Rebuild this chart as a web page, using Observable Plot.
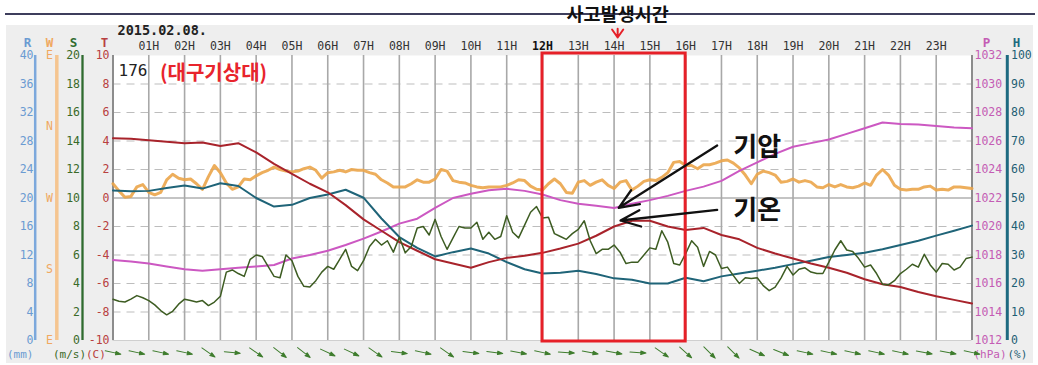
<!DOCTYPE html>
<html>
<head>
<meta charset="utf-8">
<script src="https://cdn.jsdelivr.net/npm/d3@7"></script>
<script src="https://cdn.jsdelivr.net/npm/@observablehq/plot@0.6"></script>
<style>
  html, body { margin: 0; padding: 0; background: #fff; }
  #page { position: relative; width: 1038px; height: 365px; overflow: hidden; }
  #rule { position: absolute; left: 5px; top: 13px; width: 1030px; height: 2px; background: #3e3e5c; }
  #panel { position: absolute; left: 6px; top: 25px; width: 1027px; height: 338px; background: #eeeeee; }
  #chart { position: absolute; left: 0; top: 0; }
</style>
</head>
<body>
<div id="page">
  <div id="rule"></div>
  <div id="panel"></div>
  <div id="chart"></div>
</div>
<script>
// ---- Daegu weather station (176), 2015-02-08 ----

// sample times (hours of the day)
const halfHours = d3.range(0, 49).map(i => i / 2);      // every 30 min
const tenMinutes = d3.range(0, 145).map(k => k / 6);    // every 10 min
const arrowHours = d3.range(0, 37).map(i => i * 2 / 3); // every 40 min

// temperature (°C), half-hourly
const temperature = [
  4.2, 4.15, 4.05, 3.95, 3.85, 3.9, 3.65, 3.85, 3.2, 2.4,
  1.7, 1.0, 0.4, -0.5, -1.5, -2.3, -3.1, -3.7, -4.3, -4.6,
  -4.9, -4.5, -4.2, -4.05, -3.85, -3.55, -3.2, -2.65, -2.0, -1.6,
  -1.6, -2.0, -2.25, -2.1, -2.6, -2.9, -3.5, -3.9, -4.25, -4.6,
  -4.9, -5.25, -5.7, -6.05, -6.25, -6.6, -6.9, -7.15, -7.4
];

// station pressure (hPa), half-hourly
const pressure = [
  1017.65, 1017.55, 1017.4, 1017.2, 1017.0, 1016.9, 1017.0, 1017.1, 1017.2, 1017.3,
  1017.75, 1018.0, 1018.3, 1018.7, 1019.15, 1019.65, 1020.2, 1020.55, 1021.3, 1022.0,
  1022.3, 1022.55, 1022.65, 1022.5, 1022.25, 1021.85, 1021.6, 1021.45, 1021.3, 1021.6,
  1021.85, 1022.15, 1022.5, 1022.8, 1023.2, 1023.9, 1024.5, 1025.1, 1025.6, 1025.85,
  1026.1, 1026.5, 1026.9, 1027.3, 1027.2, 1027.15, 1027.05, 1026.95, 1026.9
];

// relative humidity (%), half-hourly
const humidity = [
  52.6, 52.4, 52.5, 53.5, 54.4, 53.3, 55.2, 54.2, 50.0, 47.0,
  47.6, 50.0, 51.2, 52.9, 50.1, 42.8, 36.3, 32.5, 29.5, 31.0,
  32.3, 30.5, 27.5, 25.0, 23.5, 23.8, 24.5, 23.3, 21.8, 21.3,
  20.0, 20.0, 22.0, 20.8, 22.5, 23.5, 24.5, 25.5, 26.8, 28.0,
  29.3, 30.0, 30.8, 32.0, 33.5, 35.0, 36.8, 38.5, 40.3
];

// wind speed (m/s), every 10 min
const windSpeed = [
  2.9, 2.75, 2.7, 2.9, 3.15, 3.0, 2.8, 2.5, 2.1, 1.8,
  2.05, 2.55, 2.9, 2.8, 2.7, 2.8, 2.45, 2.7, 3.1, 4.8,
  4.95, 4.7, 4.5, 5.7, 6.0, 5.9, 5.2, 4.5, 4.4, 6.0,
  5.6, 4.5, 3.8, 3.75, 4.2, 4.8, 5.2, 5.0, 5.7, 6.4,
  5.2, 4.9, 5.6, 6.6, 7.1, 6.7, 7.0, 6.2, 7.25, 6.15,
  6.6, 7.9, 8.0, 7.4, 8.5, 7.3, 6.4, 7.2, 8.0, 7.9,
  7.9, 8.3, 7.1, 7.6, 7.1, 7.3, 8.75, 7.6, 7.2, 8.1,
  9.0, 9.4, 8.6, 8.65, 7.5, 7.3, 7.1, 7.5, 7.8, 8.4,
  7.0, 6.1, 6.4, 6.4, 6.7, 6.2, 5.4, 5.5, 5.5, 6.0,
  6.5, 6.4, 7.7, 6.9, 5.4, 5.3, 6.1, 7.0, 6.55, 5.2,
  6.25, 6.0, 5.05, 5.15, 4.55, 4.0, 4.4, 4.35, 4.4, 3.85,
  3.5, 3.75, 4.4, 5.2, 4.6, 5.0, 5.1, 4.8, 4.7, 4.7,
  5.5, 6.35, 7.0, 6.35, 6.25, 5.75, 5.15, 5.3, 4.7, 3.95,
  3.9, 4.2, 4.7, 5.0, 5.35, 5.15, 6.05, 5.3, 4.8, 5.4,
  5.35, 4.95, 5.15, 5.75, 5.85
];

// wind direction (degrees, where the wind blows from), every 10 min
const windDirection = [
  288, 279, 271, 272, 284, 287, 277, 274, 277, 293,
  300, 295, 293, 294, 288, 281, 297, 311, 302, 289,
  281, 284, 294, 293, 298, 302, 305, 309, 306, 304,
  303, 304, 307, 309, 305, 295, 302, 303, 305, 303,
  306, 305, 305, 302, 300, 293, 289, 284, 284, 284,
  288, 293, 290, 290, 294, 306, 304, 292, 290, 289,
  286, 284, 283, 284, 284, 284, 286, 289, 293, 292,
  285, 281, 280, 288, 294, 288, 277, 276, 290, 292,
  286, 290, 293, 286, 282, 290, 292, 280, 285, 291,
  293, 292, 296, 302, 315, 316, 311, 311, 307, 312,
  312, 314, 317, 318, 314, 308, 299, 288, 300, 304,
  302, 299, 290, 291, 294, 290, 292, 290, 284, 283,
  287, 284, 287, 284, 283, 285, 289, 286, 299, 306,
  299, 286, 281, 280, 281, 281, 284, 285, 280, 281,
  280, 284, 284, 283, 282
];

// wind vectors along the bottom strip (direction the wind blows from, degrees)
const arrowDirection = [
  282, 282, 282, 282, 305, 276, 305, 308, 308, 295,
  295, 305, 278, 282, 305, 277, 277, 280, 282, 274,
  280, 280, 274, 305, 312, 315, 315, 294, 292, 282,
  282, 282, 282, 282, 280, 280, 282
];

// axis ticks
const hourTicks = d3.range(1, 24);
const hourLabels = hourTicks.map(h => String(h).padStart(2, "0") + "H");
const rainTicks = [40, 36, 32, 28, 24, 20, 16, 12, 8, 4, 0];
const dirTicks = [450, 360, 270, 180, 90];
const dirLabels = ["E", "N", "W", "S", "E"];
const speedTicks = [20, 18, 16, 14, 12, 10, 8, 6, 4, 2, 0];
const tempTicks = [10, 8, 6, 4, 2, 0, -2, -4, -6, -8, -10];
const pressTicks = [1032, 1030, 1028, 1026, 1024, 1022, 1020, 1018, 1016, 1014, 1012];
const humTicks = [100, 90, 80, 70, 60, 50, 40, 30, 20, 10, 0];

const stationNo = "176";
const stationName = "(대구기상대)";
const dateLabel = "2015.02.08.";
const accidentLabel = "사고발생시간";
const accidentHour = 14.1;

// every quantity shares one vertical frame: the temperature scale (-10..10 °C)
const frame = {
  rain: r => r / 2 - 10,
  dir: d => (d - 270) / 18,
  speed: s => s - 10,
  temp: t => t,
  press: p => p - 1022,
  hum: h => h / 5 - 10
};

const series = (times, values, f) => times.map((t, i) => ({t, v: f(values[i])}));

const mono = "DejaVu Sans Mono, monospace";
const kr = "Noto Sans CJK KR, sans-serif";

const colors = {
  rain: "#6b9bd2", rainAxis: "#7ca8dc",
  dir: "#eba54a", dirLabel: "#f0a860", dirAxis: "#f5c590",
  speed: "#3d5c22", speedLabel: "#3a6a28", speedAxis: "#2f6b2f",
  temp: "#a8232b", tempLabel: "#b84040",
  press: "#cc58c2", pressLabel: "#c45cb4",
  hum: "#1f6478", humLabel: "#1e5f74", humAxis: "#1d6a80",
  vector: "#3f7d2e"
};

// thin-tailed arrow with a small filled head, used for the wind vectors
const windGlyph = {
  draw(ctx, l) {
    const head = l * 0.32, wing = l * 0.11;
    ctx.moveTo(0, 0);
    ctx.lineTo(0, -l + head * 0.5);
    ctx.moveTo(0, -l);
    ctx.lineTo(-wing, -l + head);
    ctx.lineTo(wing, -l + head);
    ctx.closePath();
  }
};

// downward chevron marking the accident time
const chevron = {
  draw(ctx, l) {
    ctx.moveTo(-l * 0.7, -l);
    ctx.lineTo(0, 0);
    ctx.lineTo(l * 0.7, -l);
    ctx.moveTo(0, 0);
    ctx.lineTo(0, -l * 1.1);
  }
};

const annotations = [
  {label: "기압", lx: 18.0, ly: 3.54, x1: 16.88, y1: 3.68, x2: 14.13, y2: frame.press(1021.31)},
  {label: "기온", lx: 18.0, ly: -0.88, x1: 16.88, y1: -0.83, x2: 14.18, y2: frame.temp(-1.58)}
];

const tickText = (ticks, f, anchor, dx, textAnchor, fill, labels) =>
  Plot.text(ticks, {
    y: f, text: (d, i) => labels ? labels[i] : String(d),
    frameAnchor: anchor, dx, textAnchor, fill,
    fontSize: 11.5, fontFamily: mono
  });

const header = (label, anchor, dx, fill) =>
  Plot.text([label], {text: d => d, frameAnchor: anchor, dx, dy: -13, lineAnchor: "middle",
    textAnchor: "middle", fill, fontSize: 12.5, fontWeight: "bold", fontFamily: mono});

const unit = (label, anchor, dx, fill) =>
  Plot.text([label], {text: d => d, frameAnchor: anchor, dx, dy: 13.5, lineAnchor: "middle",
    fill, textAnchor: "start", fontSize: 11, fontFamily: mono});

const chart = Plot.plot({
  width: 1038,
  height: 365,
  marginLeft: 112.5,
  marginRight: 66.5,
  marginTop: 55,
  marginBottom: 25,
  x: {domain: [0, 24], axis: null},
  y: {domain: [-10, 10], axis: null},
  style: {background: "transparent", overflow: "visible"},
  marks: [
    // plotting area and grid
    Plot.frame({fill: "white", stroke: null}),
    Plot.ruleY([-8, -6, -4, -2, 2, 4, 6, 8], {stroke: "#bdbdbd", strokeWidth: 1, strokeDasharray: "8,6"}),
    Plot.ruleY([0], {stroke: "#b0b0b0", strokeWidth: 1.5}),
    Plot.ruleX(hourTicks, {stroke: "#a8a8a8", strokeWidth: 1.6}),
    Plot.ruleY([-10], {stroke: "#cfcfcf", strokeWidth: 1}),
    Plot.ruleX([0, 24], {stroke: "#8c8c8c", strokeWidth: 2}),

    // extra axis spines
    Plot.ruleX([0], {dx: -77.8, stroke: colors.rainAxis, strokeWidth: 2.5}),
    Plot.ruleX([0], {dx: -56.2, stroke: colors.dirAxis, strokeWidth: 3.5}),
    Plot.ruleX([0], {dx: -30.5, stroke: colors.speedAxis, strokeWidth: 2.3}),
    Plot.ruleX([24], {dx: 35.3, stroke: colors.humAxis, strokeWidth: 3}),

    // tick labels
    tickText(rainTicks, frame.rain, "left", -79.5, "end", colors.rain),
    tickText(dirTicks, frame.dir, "left", -63.5, "middle", colors.dirLabel, dirLabels),
    tickText(speedTicks, frame.speed, "left", -33, "end", colors.speedLabel),
    tickText(tempTicks, frame.temp, "left", -3.5, "end", colors.tempLabel),
    tickText(pressTicks, frame.press, "right", 2.5, "start", colors.pressLabel),
    tickText(humTicks, frame.hum, "right", 39, "start", colors.humLabel),

    // axis headers and units
    header("R", "top-left", -85.5, colors.rain),
    header("W", "top-left", -63.5, colors.dirLabel),
    header("S", "top-left", -39.5, colors.speedAxis),
    header("T", "top-left", -8.5, colors.tempLabel),
    header("P", "top-right", 14.5, colors.pressLabel),
    header("H", "top-right", 44.5, colors.humAxis),
    unit("(mm)", "bottom-left", -106, colors.rain),
    unit("(m/s)", "bottom-left", -60, colors.speedLabel),
    unit("(C)", "bottom-left", -27, colors.tempLabel),
    unit("(hPa)", "bottom-right", 1.5, colors.pressLabel),
    unit("(%)", "bottom-right", 35.5, colors.humLabel),

    // hour labels along the top
    Plot.text(hourTicks.filter(h => h !== 12), {
      x: d => d, text: d => hourLabels[d - 1], frameAnchor: "top", dy: -9, lineAnchor: "middle",
      fill: "#333", fontSize: 11.5, fontFamily: mono
    }),
    Plot.text([12], {
      x: d => d, text: d => hourLabels[d - 1], frameAnchor: "top", dy: -9, lineAnchor: "middle",
      fill: "#111", fontSize: 11.5, fontWeight: "bold", fontFamily: mono
    }),
    Plot.text([dateLabel], {
      text: d => d, frameAnchor: "top-left", dx: 4.5, dy: -25, lineAnchor: "middle", textAnchor: "start",
      fill: "#222", fontSize: 13.5, fontWeight: "bold", fontFamily: mono
    }),

    // observations
    Plot.line(series(tenMinutes, windDirection, frame.dir),
      {x: "t", y: "v", stroke: colors.dir, strokeWidth: 3, strokeOpacity: 0.9, strokeLinejoin: "round"}),
    Plot.line(series(halfHours, pressure, frame.press),
      {x: "t", y: "v", stroke: colors.press, strokeWidth: 2}),
    Plot.line(series(halfHours, humidity, frame.hum),
      {x: "t", y: "v", stroke: colors.hum, strokeWidth: 2}),
    Plot.line(series(halfHours, temperature, frame.temp),
      {x: "t", y: "v", stroke: colors.temp, strokeWidth: 2}),
    Plot.line(series(tenMinutes, windSpeed, frame.speed),
      {x: "t", y: "v", stroke: colors.speed, strokeWidth: 1.5, strokeLinejoin: "round"}),

    // wind vectors below the plot
    Plot.vector(arrowHours, {
      x: d => d, rotate: (d, i) => arrowDirection[i] - 180,
      length: 16, shape: windGlyph, anchor: "middle",
      frameAnchor: "bottom", dy: 12,
      stroke: colors.vector, fill: colors.vector, strokeWidth: 1
    }),

    // station labels
    Plot.text([stationNo], {
      text: d => d, frameAnchor: "top-left", dx: 5.5, dy: 15, lineAnchor: "middle", textAnchor: "start",
      fill: "#222", fontSize: 16, fontFamily: mono
    }),
    Plot.text([stationName], {
      text: d => d, frameAnchor: "top-left", dx: 47, dy: 18, lineAnchor: "middle", textAnchor: "start",
      fill: "#e8242c", fontSize: 20, fontWeight: "bold", fontFamily: kr
    }),

    // accident window
    Plot.rect([{x1: 12, x2: 16}], {
      x1: "x1", x2: "x2", y1: -10, y2: 10, insetTop: -2, insetBottom: -1,
      fill: "none", stroke: "#e62028", strokeWidth: 3
    }),
    Plot.text([accidentHour], {
      x: d => d, text: () => accidentLabel, frameAnchor: "top", dy: -40, lineAnchor: "middle",
      fill: "#111", fontSize: 18.5, fontWeight: "bold", fontFamily: kr
    }),
    Plot.vector([accidentHour], {
      x: d => d, length: 8, shape: chevron, anchor: "start",
      frameAnchor: "top", dy: -18, stroke: "#e62028", strokeWidth: 2
    }),

    // call-outs
    Plot.arrow(annotations, {
      x1: "x1", y1: "y1", x2: "x2", y2: "y2",
      stroke: "#111", strokeWidth: 2.3, headLength: 14, headAngle: 45
    }),
    Plot.text(annotations, {
      x: "lx", y: "ly", text: "label",
      fill: "#111", fontSize: 26, fontWeight: "bold", fontFamily: kr
    })
  ]
});

document.getElementById("chart").appendChild(chart);
</script>
</body>
</html>
